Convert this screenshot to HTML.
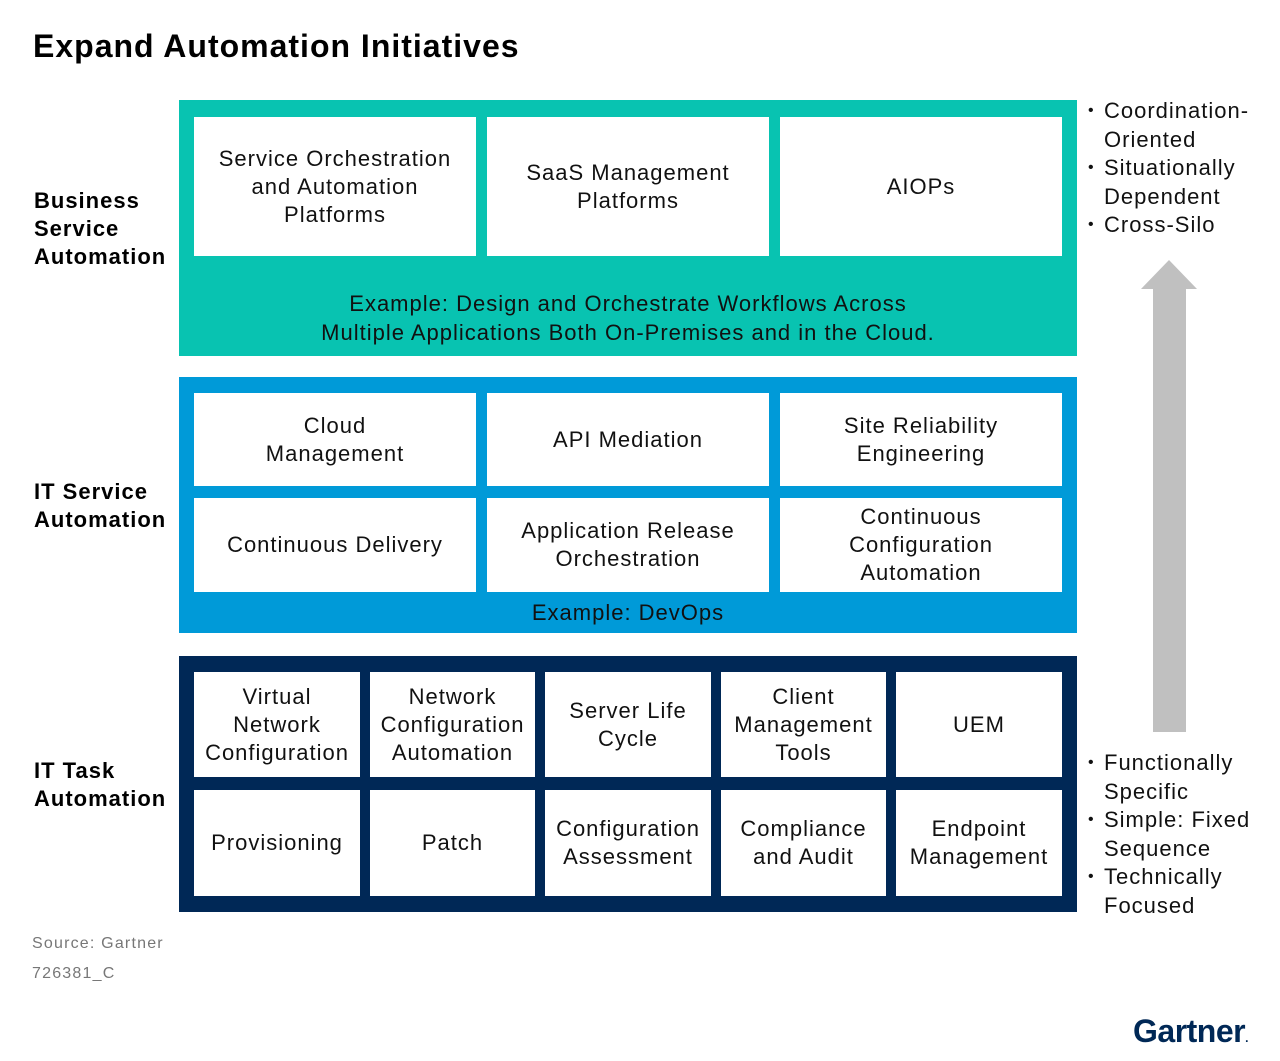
<!DOCTYPE html>
<html><head><meta charset="utf-8"><style>
body{margin:0;width:1280px;height:1061px;background:#fff;font-family:"Liberation Sans",sans-serif;position:relative;overflow:hidden;letter-spacing:1px}
.a{position:absolute}
.c{position:absolute;background:#fff;display:flex;align-items:center;justify-content:center;text-align:center;font-size:22px;line-height:28px;color:#111}
.lbl{position:absolute;left:34px;font-weight:bold;font-size:22px;line-height:28px;color:#000;letter-spacing:1px}
.bul{position:absolute;left:1088px;font-size:22px;line-height:28.5px;color:#111}
.bul div{padding-left:16px;position:relative}
.bul div.b:before{content:"•";position:absolute;left:0;font-size:16px}
</style></head><body>
<div class="a" style="left:33px;top:28px;font-size:32px;font-weight:bold;color:#000;letter-spacing:1px">Expand Automation Initiatives</div>

<div class="a" style="left:179px;top:100px;width:898px;height:256px;background:#08c3b1"></div>
<div class="c" style="left:194px;top:117px;width:282px;height:139px">Service Orchestration<br>and Automation<br>Platforms</div>
<div class="c" style="left:487px;top:117px;width:282px;height:139px">SaaS Management<br>Platforms</div>
<div class="c" style="left:780px;top:117px;width:282px;height:139px">AIOPs</div>
<div class="a" style="left:179px;top:289px;width:898px;text-align:center;font-size:22px;line-height:29px;color:#111">Example: Design and Orchestrate Workflows Across<br>Multiple Applications Both On-Premises and in the Cloud.</div>

<div class="a" style="left:179px;top:377px;width:898px;height:256px;background:#009ad8"></div>
<div class="c" style="left:194px;top:393px;width:282px;height:93px">Cloud<br>Management</div>
<div class="c" style="left:487px;top:393px;width:282px;height:93px">API Mediation</div>
<div class="c" style="left:780px;top:393px;width:282px;height:93px">Site Reliability<br>Engineering</div>
<div class="c" style="left:194px;top:498px;width:282px;height:94px">Continuous Delivery</div>
<div class="c" style="left:487px;top:498px;width:282px;height:94px">Application Release<br>Orchestration</div>
<div class="c" style="left:780px;top:498px;width:282px;height:94px">Continuous<br>Configuration<br>Automation</div>
<div class="a" style="left:179px;top:599px;width:898px;text-align:center;font-size:22px;line-height:28px;color:#111">Example: DevOps</div>

<div class="a" style="left:179px;top:656px;width:898px;height:256px;background:#002856"></div>
<div class="c" style="left:194px;top:672px;width:166px;height:105px">Virtual<br>Network<br>Configuration</div>
<div class="c" style="left:370px;top:672px;width:165px;height:105px">Network<br>Configuration<br>Automation</div>
<div class="c" style="left:545px;top:672px;width:166px;height:105px">Server Life<br>Cycle</div>
<div class="c" style="left:721px;top:672px;width:165px;height:105px">Client<br>Management<br>Tools</div>
<div class="c" style="left:896px;top:672px;width:166px;height:105px">UEM</div>
<div class="c" style="left:194px;top:790px;width:166px;height:106px">Provisioning</div>
<div class="c" style="left:370px;top:790px;width:165px;height:106px">Patch</div>
<div class="c" style="left:545px;top:790px;width:166px;height:106px">Configuration<br>Assessment</div>
<div class="c" style="left:721px;top:790px;width:165px;height:106px">Compliance<br>and Audit</div>
<div class="c" style="left:896px;top:790px;width:166px;height:106px">Endpoint<br>Management</div>

<div class="lbl" style="top:187px">Business<br>Service<br>Automation</div>
<div class="lbl" style="top:478px">IT Service<br>Automation</div>
<div class="lbl" style="top:757px">IT Task<br>Automation</div>

<div class="bul" style="top:97px"><div class="b">Coordination-</div><div>Oriented</div><div class="b">Situationally</div><div>Dependent</div><div class="b">Cross-Silo</div></div>
<div class="bul" style="top:749px"><div class="b">Functionally</div><div>Specific</div><div class="b">Simple: Fixed</div><div>Sequence</div><div class="b">Technically</div><div>Focused</div></div>

<svg class="a" style="left:1140px;top:259px" width="60" height="475"><polygon points="29,1 57,30 46,30 46,473 13,473 13,30 1,30" fill="#c0c0c0"/></svg>

<div class="a" style="left:32px;top:935px;font-size:16px;color:#777;letter-spacing:1.2px">Source: Gartner</div>
<div class="a" style="left:32px;top:965px;font-size:16px;color:#777;letter-spacing:1.2px">726381_C</div>
<div class="a" style="left:1133px;top:1013px;font-size:32px;font-weight:bold;color:#002856;letter-spacing:-0.5px">Gartner<span style="font-size:12px">.</span></div>
</body></html>
